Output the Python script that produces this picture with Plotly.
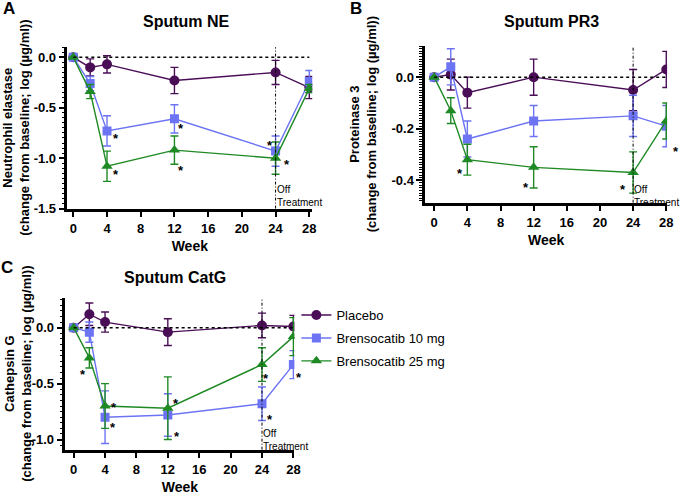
import numpy as np
import plotly.graph_objects as go

# ---------------- data ----------------
weeks = [0, 2, 4, 12, 24, 28]
series_names = ["Placebo", "Brensocatib 10 mg", "Brensocatib 25 mg"]
x_ticks = [0, 4, 8, 12, 16, 20, 24, 28]
x_tick_labels = ["0", "4", "8", "12", "16", "20", "24", "28"]

# Panel A: Sputum NE
ne_placebo = [0.0, -0.10, -0.07, -0.23, -0.15, -0.30]
ne_placebo_err = [0.0, 0.085, 0.085, 0.13, 0.12, 0.11]
ne_10mg = [0.0, -0.26, -0.73, -0.61, -0.93, -0.24]
ne_10mg_err = [0.0, 0.07, 0.15, 0.14, 0.15, 0.11]
ne_25mg = [0.0, -0.34, -1.08, -0.92, -1.00, -0.31]
ne_25mg_err = [0.0, 0.07, 0.15, 0.14, 0.16, 0.04]
ne_y_ticks = [0.0, -0.5, -1.0, -1.5]
ne_y_tick_labels = ["0.0", "-0.5", "-1.0", "-1.5"]

# Panel B: Sputum PR3
pr3_placebo = [0.0, 0.01, -0.06, 0.00, -0.05, 0.03]
pr3_placebo_err = [0.0, 0.06, 0.06, 0.07, 0.08, 0.07]
pr3_10mg = [0.0, 0.04, -0.24, -0.17, -0.15, -0.19]
pr3_10mg_err = [0.0, 0.07, 0.07, 0.06, 0.08, 0.08]
pr3_25mg = [0.0, -0.13, -0.32, -0.35, -0.37, -0.17]
pr3_25mg_err = [0.0, 0.05, 0.06, 0.08, 0.08, 0.07]
pr3_y_ticks = [0.0, -0.2, -0.4]
pr3_y_tick_labels = ["0.0", "-0.2", "-0.4"]

# Panel C: Sputum CatG
catg_placebo = [0.0, 0.12, 0.05, -0.04, 0.02, 0.01]
catg_placebo_err = [0.0, 0.10, 0.09, 0.12, 0.11, 0.10]
catg_10mg = [0.0, -0.04, -0.80, -0.78, -0.68, -0.33]
catg_10mg_err = [0.0, 0.09, 0.235, 0.19, 0.15, 0.125]
catg_25mg = [0.0, -0.27, -0.70, -0.72, -0.33, -0.08]
catg_25mg_err = [0.0, 0.09, 0.20, 0.28, 0.15, 0.17]
catg_y_ticks = [0.0, -0.5, -1.0]
catg_y_tick_labels = ["0.0", "-0.5", "-1.0"]

baseline = 0.0
off_treatment_week = 24

# significance markers: (series index, week)
ne_sig = [(1, 4), (2, 4), (1, 12), (2, 12), (1, 24), (2, 24)]
pr3_sig = [(2, 4), (2, 12), (2, 24), (1, 28)]
catg_sig = [(2, 2), (2, 4), (1, 4), (2, 12), (1, 12), (2, 24), (1, 24), (1, 28)]

# ---------------- styling / layout ----------------
W, H = 685, 497
FONT = "Liberation Sans, Arial, sans-serif"
colors = ["#4A0E57", "#6C74F4", "#1F8A24"]
symbols = ["circle", "square", "triangle-up"]
msizes = [10, 9, 10]

# pixel offsets (dx right, dy down) of each asterisk from its point
ne_sig_off = [(9, 4), (9, 4), (7, 6), (7, 16), (-6, -10), (11, 2)]
pr3_sig_off = [(-7, 10), (-8, 16), (-10, 13), (10, 21)]
catg_sig_off = [(-6, 13), (9, -3), (8, 6), (8, -9), (9, 18), (4, 10), (8, 12), (6, 9)]

panels = [
    dict(key="A", title="Sputum NE", ytitle="Neutrophil elastase<br>(change from baseline; log (µg/ml))",
         data=[(ne_placebo, ne_placebo_err), (ne_10mg, ne_10mg_err), (ne_25mg, ne_25mg_err)],
         yticks=ne_y_ticks, ylabels=ne_y_tick_labels, minor=0.05,
         xpx=(68, 315), ypx=(48, 212), xrange=[-0.7, 28.35], yrange=[-1.5, 0.1],
         sig=ne_sig, sigoff=ne_sig_off, ytitle_x=16, title_xy=(188, 22), letter_xy=(9, 9),
         off_frac=0.098, legend=False),
    dict(key="B", title="Sputum PR3", ytitle="Proteinase 3<br>(change from baseline; log (µg/ml))",
         data=[(pr3_placebo, pr3_placebo_err), (pr3_10mg, pr3_10mg_err), (pr3_25mg, pr3_25mg_err)],
         yticks=pr3_y_ticks, ylabels=pr3_y_tick_labels, minor=0.01,
         xpx=(429, 673), ypx=(47, 206), xrange=[-1.08, 28.1], yrange=[-0.487, 0.12],
         sig=pr3_sig, sigoff=pr3_sig_off, ytitle_x=367, title_xy=(556, 22), letter_xy=(359, 9),
         off_frac=0.064, legend=False),
    dict(key="C", title="Sputum CatG", ytitle="Cathepsin G<br>(change from baseline; log (µg/ml))",
         data=[(catg_placebo, catg_placebo_err), (catg_10mg, catg_10mg_err), (catg_25mg, catg_25mg_err)],
         yticks=catg_y_ticks, ylabels=catg_y_tick_labels, minor=0.05,
         xpx=(66, 297), ypx=(303, 457), xrange=[-1.05, 28.13], yrange=[-1.09, 0.264],
         sig=catg_sig, sigoff=catg_sig_off, ytitle_x=18, title_xy=(177, 282), letter_xy=(7, 272),
         off_frac=0.083, legend=True),
]

fig = go.Figure()
annotations = []
shapes = []

for i, p in enumerate(panels):
    n = "" if i == 0 else str(i + 1)
    xref, yref = "x" + n, "y" + n
    for s in range(3):
        vals, errs = p["data"][s]
        fig.add_trace(go.Scatter(
            x=weeks, y=vals, name=series_names[s], xaxis=xref, yaxis=yref,
            mode="lines+markers",
            line=dict(color=colors[s], width=1.4),
            marker=dict(symbol=symbols[s], size=msizes[s], color=colors[s]),
            error_y=dict(type="data", array=errs, visible=True, color=colors[s],
                         thickness=1.4, width=4),
            showlegend=p["legend"], legendgroup="g%d" % s,
        ))
    # asterisks
    for (s, wk), (dx, dy) in zip(p["sig"], p["sigoff"]):
        yv = p["data"][s][0][weeks.index(wk)]
        annotations.append(dict(x=wk, y=yv, xref=xref, yref=yref, text="<b>*</b>",
                                showarrow=False, xshift=dx, yshift=-dy - 4,
                                font=dict(family=FONT, size=13, color="black")))
    # baseline dotted line
    shapes.append(dict(type="line", xref=xref, yref=yref, x0=weeks[0], x1=weeks[-1],
                       y0=baseline, y1=baseline, line=dict(color="black", width=1.5, dash="dot")))
    # off-treatment line
    shapes.append(dict(type="line", xref=xref, yref=yref + " domain", x0=off_treatment_week,
                       x1=off_treatment_week, y0=0, y1=1,
                       line=dict(color="black", width=1, dash="3px,2px,1px,2px")))
    annotations.append(dict(x=off_treatment_week, y=p["off_frac"], xref=xref, yref=yref + " domain",
                            text="Off<br>Treatment", showarrow=False, xanchor="left", yanchor="middle",
                            align="left", xshift=-1, yshift=-3,
                            font=dict(family=FONT, size=10, color="black")))
    # titles
    annotations.append(dict(x=p["title_xy"][0] / W, y=1 - p["title_xy"][1] / H, xref="paper", yref="paper",
                            text="<b>%s</b>" % p["title"], showarrow=False, xanchor="center", yanchor="middle",
                            font=dict(family=FONT, size=16, color="black")))
    annotations.append(dict(x=p["letter_xy"][0] / W, y=1 - p["letter_xy"][1] / H, xref="paper", yref="paper",
                            text="<b>%s</b>" % p["key"], showarrow=False, xanchor="center", yanchor="middle",
                            font=dict(family=FONT, size=17, color="black")))
    ymid = 1 - (p["ypx"][0] + p["ypx"][1]) / 2 / H
    annotations.append(dict(x=p["ytitle_x"] / W, y=ymid, xref="paper", yref="paper",
                            text="<b>%s</b>" % p["ytitle"], showarrow=False, textangle=-90,
                            xanchor="center", yanchor="middle",
                            font=dict(family=FONT, size=13, color="black")))

    axis_common = dict(showline=True, linecolor="black", linewidth=2.5, showgrid=False, zeroline=False,
                       ticks="outside", ticklen=6, tickwidth=2, tickcolor="black",
                       tickfont=dict(family=FONT, size=13, color="black", weight="bold"))
    minor_vals = [round(v, 4) for v in np.arange(0, p["yrange"][1] + 1e-9, p["minor"])] + \
                 [round(-v, 4) for v in np.arange(p["minor"], -p["yrange"][0] + 1e-9, p["minor"])]
    fig.layout["xaxis" + n] = dict(
        axis_common, domain=[p["xpx"][0] / W, p["xpx"][1] / W], range=p["xrange"],
        anchor=yref, tickmode="array", tickvals=x_ticks, ticktext=x_tick_labels,
        title=dict(text="<b>Week</b>", font=dict(family=FONT, size=14, color="black"), standoff=7))
    fig.layout["yaxis" + n] = dict(
        axis_common, domain=[1 - p["ypx"][1] / H, 1 - p["ypx"][0] / H], range=p["yrange"],
        anchor=xref, tickmode="array", tickvals=p["yticks"], ticktext=p["ylabels"],
        minor=dict(tickmode="array", tickvals=minor_vals, ticks="outside", ticklen=3, tickwidth=1.2,
                   tickcolor="black", showgrid=False))

fig.update_layout(
    width=W, height=H, margin=dict(l=0, r=0, t=0, b=0),
    paper_bgcolor="white", plot_bgcolor="white",
    font=dict(family=FONT, color="black"),
    annotations=annotations, shapes=shapes,
    legend=dict(x=299 / W, y=1 - 305 / H, xanchor="left", yanchor="top",
                font=dict(family=FONT, size=13, color="black"),
                traceorder="grouped", tracegroupgap=3, bgcolor="rgba(0,0,0,0)"),
)

fig.write_html("out.html", config={"displayModeBar": False},
               post_script="document.body.style.margin='0px';")
